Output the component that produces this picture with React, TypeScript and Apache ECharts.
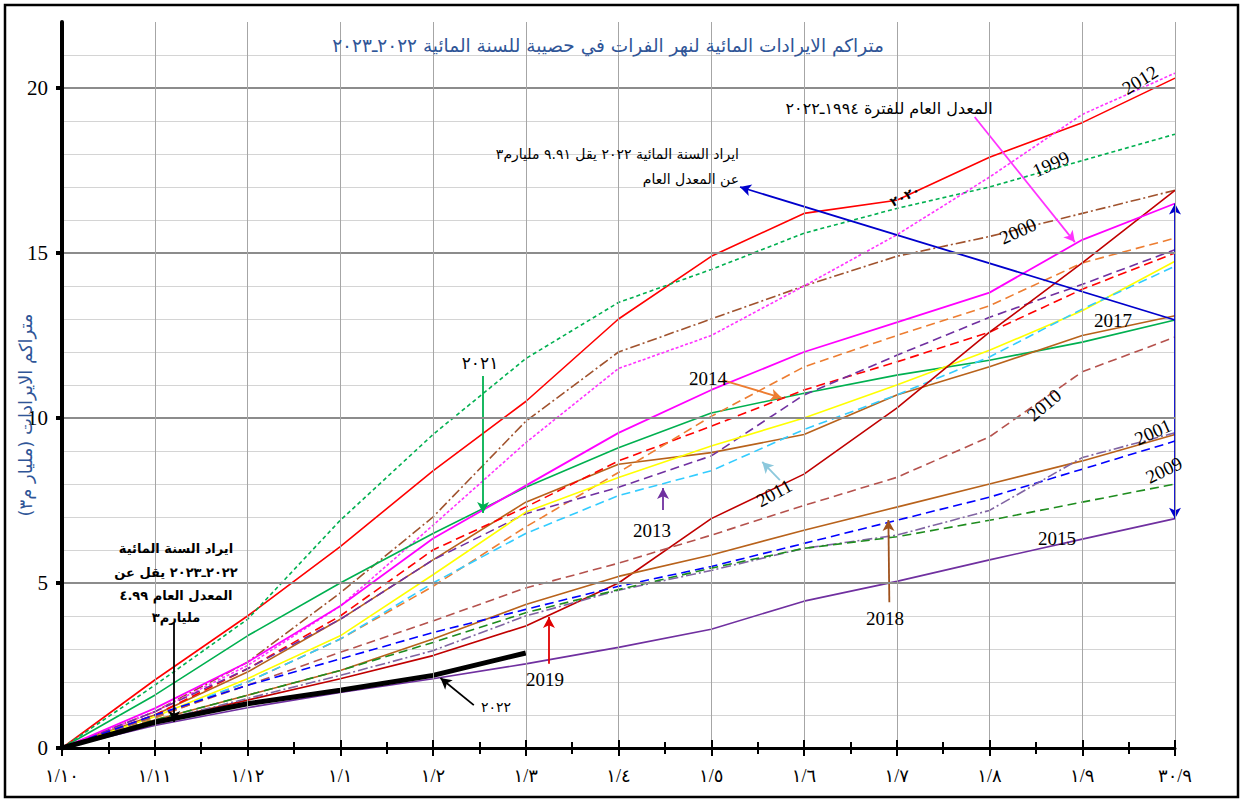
import React, { useEffect, useRef } from "react";
import * as echarts from "echarts";

// ---------- data ----------
const xLabels = ["١/١٠", "١/١١", "١/١٢", "١/١", "١/٢", "١/٣", "١/٤", "١/٥", "١/٦", "١/٧", "١/٨", "١/٩", "٣٠/٩"];
const yTicks = [0, 5, 10, 15, 20];

const redSolid2012 = [0, 2.06, 4.0, 6.1, 8.4, 10.5, 13.0, 14.9, 16.2, 16.6, 17.9, 18.95, 20.3];
const greenShortDash1999 = [0, 1.9, 3.9, 6.9, 9.5, 11.8, 13.5, 14.5, 15.6, 16.35, 17.0, 17.8, 18.6];
const brownDashDot2000 = [0, 1.1, 2.6, 4.7, 7.0, 9.9, 12.0, 13.0, 14.0, 14.9, 15.5, 16.2, 16.9];
const magentaDotted = [0, 1.1, 2.5, 4.3, 6.75, 9.25, 11.5, 12.5, 14.0, 15.55, 17.3, 19.2, 20.45];
const averageMagenta = [0, 1.2, 2.6, 4.3, 6.35, 7.95, 9.55, 10.85, 12.0, 12.9, 13.8, 15.4, 16.5];
const greenSolid2021 = [0, 1.6, 3.4, 5.0, 6.5, 7.9, 9.1, 10.15, 10.75, 11.3, 11.75, 12.3, 12.97];
const brownSolid2017 = [0, 1.0, 2.3, 3.9, 5.7, 7.45, 8.6, 8.95, 9.5, 10.7, 11.55, 12.5, 13.1];
const redDashed = [0, 1.0, 2.4, 4.0, 6.0, 7.3, 8.7, 9.75, 10.85, 11.7, 12.6, 13.9, 15.0];
const orangeDashed2014 = [0, 0.9, 2.0, 3.3, 4.9, 6.7, 8.35, 10.05, 11.55, 12.5, 13.4, 14.7, 15.45];
const purpleDashed2013 = [0, 1.1, 2.4, 3.9, 5.7, 7.1, 7.9, 8.85, 10.7, 11.9, 13.05, 14.05, 15.1];
const yellowSolid = [0, 0.95, 2.1, 3.4, 5.25, 7.15, 8.2, 9.15, 10.0, 11.0, 12.05, 13.25, 14.75];
const cyanDashed2011 = [0, 0.95, 2.0, 3.3, 5.0, 6.5, 7.65, 8.4, 9.65, 10.7, 11.85, 13.3, 14.6];
const darkRed2019 = [0, 0.8, 1.45, 2.1, 2.8, 3.7, 5.0, 6.95, 8.3, 10.3, 12.6, 14.7, 16.9];
const brownDashed2010 = [0, 0.95, 1.9, 2.9, 3.85, 4.85, 5.6, 6.45, 7.35, 8.2, 9.43, 11.4, 12.45];
const brownSolid2001 = [0, 0.85, 1.6, 2.35, 3.3, 4.35, 5.2, 5.85, 6.6, 7.3, 8.0, 8.7, 9.5];
const blueDashed2018 = [0, 1.0, 1.9, 2.7, 3.5, 4.2, 4.9, 5.5, 6.2, 6.9, 7.6, 8.45, 9.3];
const purpleDashDot = [0, 0.8, 1.5, 2.2, 2.95, 4.0, 4.78, 5.38, 6.05, 6.45, 7.2, 8.8, 9.55];
const darkGreenDashed2009 = [0, 0.85, 1.6, 2.35, 3.2, 4.1, 4.8, 5.45, 6.05, 6.4, 6.9, 7.45, 8.0];
const purpleSolid2015 = [0, 0.68, 1.22, 1.68, 2.1, 2.55, 3.05, 3.6, 4.45, 5.05, 5.7, 6.33, 6.95];
const current2022_2023 = [0, 0.78, 1.34, 1.75, 2.2, 2.88];

// ---------- styles ----------
const SERIF = "'Liberation Serif', 'DejaVu Sans', serif";
const ARABIC = "'DejaVu Sans', sans-serif";
const LONG = [9, 5];
const SHORT = [4, 3];
const DOT = [3, 2];
const DASHDOT = [10, 3, 2, 3];

const lineDefs: { name: string; data: number[]; color: string; dash?: number[]; width?: number }[] = [
  { name: "2012", data: redSolid2012, color: "#FF0000" },
  { name: "1999", data: greenShortDash1999, color: "#00B050", dash: SHORT },
  { name: "2000", data: brownDashDot2000, color: "#A0522D", dash: DASHDOT },
  { name: "magentaDotted", data: magentaDotted, color: "#FF33FF", dash: DOT },
  { name: "2021", data: greenSolid2021, color: "#00B050" },
  { name: "2017", data: brownSolid2017, color: "#B8621B" },
  { name: "redDashed", data: redDashed, color: "#FF0000", dash: LONG },
  { name: "2014", data: orangeDashed2014, color: "#ED7D31", dash: LONG },
  { name: "2013", data: purpleDashed2013, color: "#7030A0", dash: LONG },
  { name: "yellow", data: yellowSolid, color: "#FFFF00" },
  { name: "2011", data: cyanDashed2011, color: "#33CCFF", dash: LONG },
  { name: "2019", data: darkRed2019, color: "#C00000" },
  { name: "2010", data: brownDashed2010, color: "#B5524D", dash: LONG },
  { name: "2001", data: brownSolid2001, color: "#B8621B" },
  { name: "2018", data: blueDashed2018, color: "#0000FF", dash: LONG },
  { name: "purpleDashDot", data: purpleDashDot, color: "#8064A2", dash: DASHDOT },
  { name: "2009", data: darkGreenDashed2009, color: "#1E8C1E", dash: LONG },
  { name: "2015", data: purpleSolid2015, color: "#7030A0" },
  { name: "average", data: averageMagenta, color: "#FF00FF", width: 1.8 },
  { name: "2022-2023", data: current2022_2023, color: "#000000", width: 5 },
];

// annotation arrows in data units [x index, value]
const arrows: { from: number[]; to: number[]; color: string; both?: boolean }[] = [
  { from: [9.84, 19.12], to: [10.92, 15.33], color: "#FF33FF" },
  { from: [12, 12.97], to: [7.31, 17.0], color: "#0000CC" },
  { from: [12, 6.95], to: [12, 16.5], color: "#0000CC", both: true },
  { from: [4.54, 11.27], to: [4.54, 7.12], color: "#00B050" },
  { from: [1.21, 3.82], to: [1.21, 0.79], color: "#000000" },
  { from: [4.44, 1.3], to: [4.08, 2.12], color: "#000000" },
  { from: [5.25, 2.55], to: [5.25, 3.97], color: "#E00000" },
  { from: [8.92, 4.42], to: [8.91, 6.91], color: "#A0521D" },
  { from: [6.48, 7.21], to: [6.48, 7.88], color: "#7030A0" },
  { from: [7.12, 11.15], to: [7.76, 10.61], color: "#ED7D31" },
  { from: [7.74, 8.12], to: [7.55, 8.67], color: "#8CC8DC" },
];

const yearLabels: [string, number, number, number][] = [
  ["2012", 1140, 80, 0.55],
  ["1999", 1051, 164, 0.42],
  ["2000", 1018, 231, 0.42],
  ["2017", 1113, 320, 0],
  ["2010", 1044, 405, 0.7],
  ["2001", 1153, 432, 0.42],
  ["2009", 1164, 470, 0.45],
  ["2015", 1057, 538, 0],
  ["2018", 885, 618, 0],
  ["2019", 545, 679, 0],
  ["2014", 708, 378, 0],
  ["2013", 652, 530, 0],
  ["2011", 774, 493, 0.5],
];

function buildOption(): any {
  const series: any[] = lineDefs.map((d) => ({
    name: d.name,
    type: "line",
    xAxisIndex: 0,
    yAxisIndex: 0,
    data: d.data.map((v, i) => [i, v]),
    showSymbol: false,
    symbol: "none",
    silent: true,
    lineStyle: { color: d.color, width: d.width ?? 1.6, type: d.dash ?? "solid", cap: "butt" },
    z: d.name === "2022-2023" ? 5 : 3,
  }));

  series.push({
    type: "line",
    name: "annotations",
    xAxisIndex: 0,
    yAxisIndex: 0,
    data: [],
    silent: true,
    z: 6,
    markLine: {
      silent: true,
      animation: false,
      symbol: ["none", "arrow"],
      symbolSize: [9, 11],
      label: { show: false },
      emphasis: { disabled: true },
      data: arrows.map((a) => [
        { coord: a.from, symbol: a.both ? "arrow" : "none", lineStyle: { color: a.color, width: 1.8, type: "solid" } },
        { coord: a.to, symbol: "arrow" },
      ]),
    },
  });

  const txt = (text: string, x: number, y: number, size: number, extra: any = {}, rotation = 0) => ({
    type: "text",
    x,
    y,
    rotation,
    z: 50,
    silent: true,
    style: { text, fill: "#000", fontSize: size, fontFamily: ARABIC, align: "center", verticalAlign: "middle", ...extra },
  });

  const graphic: any[] = [
    {
      type: "rect",
      shape: { x: 5, y: 5, width: 1233, height: 792 },
      style: { fill: "none", stroke: "#000", lineWidth: 2.5 },
      silent: true,
      z: 100,
    },
    txt("متراكم الايرادات المائية لنهر الفرات في حصيبة للسنة المائية ٢٠٢٢ـ٢٠٢٣", 608, 45, 18.5, { fill: "#2F5597" }),
    txt("متراكم الايرادات (مليار م٣)", 25, 415, 18, { fill: "#2F5597" }, Math.PI / 2),
    txt("المعدل العام للفترة ١٩٩٤ـ٢٠٢٢", 889, 108, 16),
    txt("ايراد السنة المائية ٢٠٢٢ يقل ٩.٩١ مليارم٣", 739, 154, 14, { align: "right" }),
    txt("عن المعدل العام", 739, 179, 14, { align: "right" }),
    txt("٢٠٢١", 480, 363, 17),
    txt("٢٠٢٢", 496, 707, 14),
    txt("٢٠٢٠", 905, 196, 13, { fontWeight: "bold" }, 0.45),
  ];

  const leftLines = ["ايراد السنة المائية", "٢٠٢٢ـ٢٠٢٣ يقل عن", "المعدل العام ٤.٩٩", "مليارم٣"];
  const leftY = [548, 572, 595, 617];
  leftLines.forEach((t, i) => graphic.push(txt(t, 176, leftY[i], 13, { fontWeight: "bold" })));

  yearLabels.forEach(([t, x, y, r]) => graphic.push(txt(t, x, y, 19, { fontFamily: SERIF }, r)));

  return {
    animation: false,
    backgroundColor: "#fff",
    grid: { left: 62, right: 70, top: 22, bottom: 54, containLabel: false, outerBoundsMode: "none" },
    xAxis: [
      {
        type: "value",
        min: 0,
        max: 12,
        interval: 1,
        position: "bottom",
        axisLine: { show: true, onZero: false, lineStyle: { color: "#000", width: 3 } },
        axisTick: { show: true, length: 8, lineStyle: { color: "#000", width: 2 } },
        minorTick: { show: true, splitNumber: 2, length: 6, lineStyle: { color: "#000", width: 2 } },
        axisLabel: {
          formatter: (v: number) => xLabels[Math.round(v)] ?? "",
          fontSize: 18,
          fontFamily: SERIF,
          color: "#000",
          margin: 19,
        },
        splitLine: { show: true, lineStyle: { color: "#a6a6a6", width: 1 } },
        minorSplitLine: { show: false },
        z: 10,
      },
      {
        type: "value",
        min: 0,
        max: 12,
        interval: 1,
        position: "bottom",
        axisLine: { show: false, onZero: false },
        axisTick: { show: true, inside: true, length: 8, lineStyle: { color: "#000", width: 2 } },
        minorTick: { show: true, splitNumber: 2, length: 6, lineStyle: { color: "#000", width: 2 } },
        axisLabel: { show: false },
        splitLine: { show: false },
        z: 10,
      },
    ],
    yAxis: [
      {
        type: "value",
        min: 0,
        max: 22,
        interval: 1,
        axisLine: { show: false },
        axisTick: { show: false },
        axisLabel: { show: false },
        splitLine: { show: true, showMaxLine: false, lineStyle: { color: "#d4d4d4", width: 1 } },
      },
      {
        type: "value",
        min: 0,
        max: 22,
        interval: 5,
        position: "left",
        axisLine: { show: true, onZero: false, lineStyle: { color: "#000", width: 4 } },
        axisTick: { show: true, length: 6, lineStyle: { color: "#000", width: 4 }, customValues: yTicks },
        axisLabel: {
          fontSize: 21,
          fontFamily: SERIF,
          color: "#000",
          margin: 14,
          customValues: yTicks,
        },
        splitLine: { show: true, lineStyle: { color: "#8c8c8c", width: 2 } },
        z: 10,
      },
    ],
    series,
    graphic,
  };
}

export default function App() {
  const ref = useRef<HTMLDivElement>(null);
  useEffect(() => {
    if (!ref.current) return;
    const chart = echarts.init(ref.current, null, { renderer: "svg" });
    chart.setOption(buildOption());
    return () => chart.dispose();
  }, []);
  return (
    <div
      ref={ref}
      style={{ position: "fixed", left: 0, top: 0, width: 1245, height: 802, background: "#fff" }}
    />
  );
}
